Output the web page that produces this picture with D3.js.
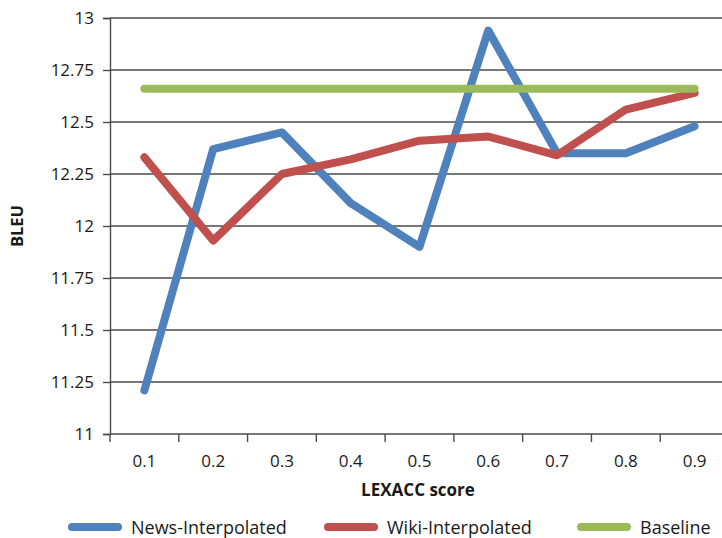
<!DOCTYPE html>
<html>
<head>
<meta charset="utf-8">
<script src="https://cdn.jsdelivr.net/npm/d3@7"></script>
<style>
  html, body { margin: 0; padding: 0; background: #fff; }
  svg text { font-family: "Open Sans", sans-serif; fill: #1a1a1a; }
</style>
</head>
<body>
<svg id="chart" width="722" height="538"></svg>
<script>
// LEXACC threshold categories
const scores = ["0.1", "0.2", "0.3", "0.4", "0.5", "0.6", "0.7", "0.8", "0.9"];
// BLEU per threshold
const newsInterpolated = [11.21, 12.37, 12.45, 12.11, 11.90, 12.94, 12.35, 12.35, 12.48];
const wikiInterpolated = [12.33, 11.93, 12.25, 12.32, 12.41, 12.43, 12.34, 12.56, 12.64];
const baseline = [12.66, 12.66, 12.66, 12.66, 12.66, 12.66, 12.66, 12.66, 12.66];
const yTicks = [11, 11.25, 11.5, 11.75, 12, 12.25, 12.5, 12.75, 13];
const yTickLabels = ["11", "11.25", "11.5", "11.75", "12", "12.25", "12.5", "12.75", "13"];
const seriesNames = ["News-Interpolated", "Wiki-Interpolated", "Baseline"];
const seriesColors = ["#4F81BD", "#C0504D", "#9BBB59"];

const svg = d3.select("#chart");
const plotLeft = 110, plotRight = 729, plotTop = 18, plotBottom = 434;

const x = d3.scaleBand().domain(scores).range([plotLeft, plotRight]);
const y = d3.scaleLinear().domain([11, 13]).range([plotBottom, plotTop]);

const axisColor = "#4a4a4a";

// horizontal gridlines
svg.append("g")
  .selectAll("line")
  .data(yTicks.slice(1))
  .join("line")
  .attr("x1", plotLeft).attr("x2", 722)
  .attr("y1", d => y(d)).attr("y2", d => y(d))
  .attr("stroke", axisColor).attr("stroke-width", 1.4);

// y axis
const yAxis = svg.append("g")
  .attr("transform", `translate(${plotLeft},0)`)
  .call(d3.axisLeft(y).tickValues(yTicks)
    .tickFormat((d, i) => yTickLabels[i]).tickSize(7).tickPadding(9));
yAxis.select(".domain").attr("stroke", axisColor).attr("stroke-width", 1.4);
yAxis.selectAll(".tick line").attr("stroke", axisColor).attr("stroke-width", 1.4);
yAxis.selectAll("text").attr("font-size", 17).style("font-family", "'Open Sans', sans-serif").attr("fill", "#1a1a1a");

// x axis with ticks at category boundaries
const xAxis = svg.append("g").attr("transform", `translate(0,${plotBottom})`);
xAxis.append("line").attr("x1", plotLeft).attr("x2", 722).attr("y1", 0).attr("y2", 0)
  .attr("stroke", axisColor).attr("stroke-width", 1.4);
xAxis.selectAll("line.tk")
  .data(scores)
  .join("line").attr("class", "tk")
  .attr("x1", d => x(d)).attr("x2", d => x(d))
  .attr("y1", 0).attr("y2", 8)
  .attr("stroke", axisColor).attr("stroke-width", 1.4);
xAxis.selectAll("text")
  .data(scores)
  .join("text")
  .attr("x", d => x(d) + x.bandwidth() / 2)
  .attr("y", 33)
  .attr("text-anchor", "middle")
  .attr("font-size", 17)
  .text(d => d);

// axis titles
svg.append("text")
  .attr("transform", `translate(23,${(plotTop + plotBottom) / 2}) rotate(-90)`)
  .attr("text-anchor", "middle")
  .attr("font-size", 16.5).attr("font-weight", "bold")
  .text("BLEU");
svg.append("text")
  .attr("x", 418).attr("y", 496)
  .attr("text-anchor", "middle")
  .attr("font-size", 17).attr("font-weight", "bold")
  .text("LEXACC score");

// series lines
const line = d3.line()
  .x((d, i) => x(scores[i]) + x.bandwidth() / 2)
  .y(d => y(d));

const series = [newsInterpolated, wikiInterpolated, baseline];
series.forEach((values, k) => {
  svg.append("path")
    .datum(values)
    .attr("d", line)
    .attr("fill", "none")
    .attr("stroke", seriesColors[k])
    .attr("stroke-width", 8)
    .attr("stroke-linecap", "round")
    .attr("stroke-linejoin", "round");
});

// legend
const legendX = [68, 324, 577];
const legend = svg.append("g");
seriesNames.forEach((name, k) => {
  legend.append("line")
    .attr("x1", legendX[k] + 4).attr("x2", legendX[k] + 50)
    .attr("y1", 527).attr("y2", 527)
    .attr("stroke", seriesColors[k]).attr("stroke-width", 8)
    .attr("stroke-linecap", "round");
  legend.append("text")
    .attr("x", legendX[k] + 63).attr("y", 534)
    .attr("font-size", 18)
    .text(name);
});
</script>
</body>
</html>
